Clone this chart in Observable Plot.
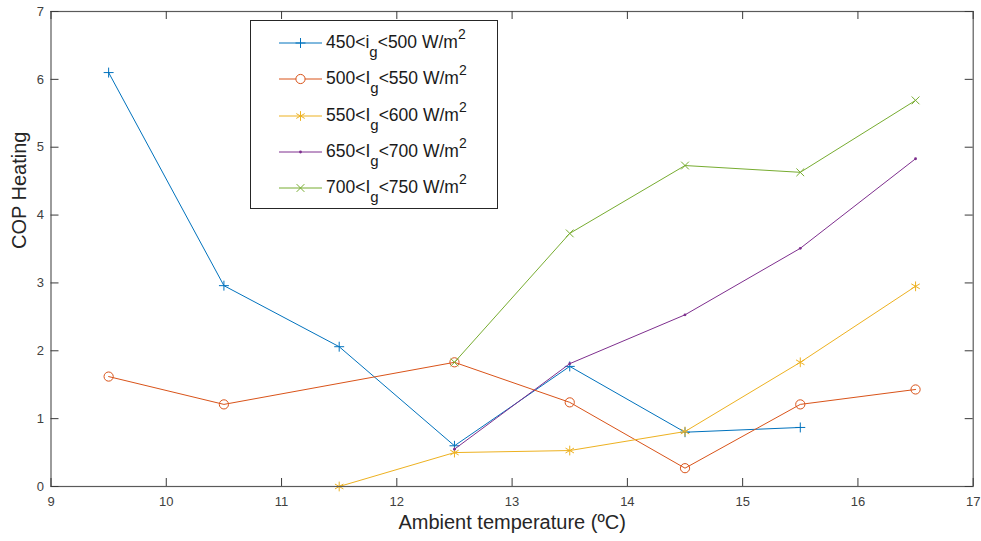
<!DOCTYPE html>
<html><head><meta charset="utf-8">
<script src="https://cdn.jsdelivr.net/npm/d3@7"></script>
<script src="https://cdn.jsdelivr.net/npm/@observablehq/plot@0.6"></script>
<style>
body{margin:0;background:#fff;font-family:"Liberation Sans",Arial,sans-serif;}
#wrap{position:relative;width:981px;height:541px;overflow:hidden;}
#legend{position:absolute;left:250px;top:20px;width:248px;height:189px;box-sizing:border-box;border:1px solid #262626;background:#fff;}
.row{position:absolute;left:0;height:30px;width:240px;}
.row svg{position:absolute;left:28px;top:0;}
.row .lab{position:absolute;left:75px;top:4px;font-size:17.5px;line-height:20px;color:#1a1a1a;white-space:nowrap;}
.lab .sb{font-size:15px;position:relative;top:9px;}
.lab .sp{font-size:14px;position:relative;top:-9px;}
</style>
</head><body>
<div id="wrap"></div>
<script>
// ---- data ----
const temps = [9.5, 10.5, 11.5, 12.5, 13.5, 14.5, 15.5, 16.5];
const cop450 = [6.10, 2.96, 2.06, 0.60, 1.77, 0.80, 0.87, null];
const cop500 = [1.62, 1.21, null, 1.83, 1.24, 0.27, 1.21, 1.43];
const cop550 = [null, null, 0.00, 0.50, 0.53, 0.81, 1.83, 2.95];
const cop650 = [null, null, null, 0.55, 1.81, 2.53, 3.51, 4.83];
const cop700 = [null, null, null, 1.83, 3.73, 4.73, 4.63, 5.69];
const lowBounds = [450, 500, 550, 650, 700];
const highBounds = [500, 550, 600, 700, 750];
const irrLetters = ["i", "I", "I", "I", "I"];
const xTicks = [9, 10, 11, 12, 13, 14, 15, 16, 17];
const yTicks = [0, 1, 2, 3, 4, 5, 6, 7];
const xLabel = "Ambient temperature (ºC)";
const yLabel = "COP Heating";

// ---- styles ----
const colors = ["#0072BD", "#D95319", "#EDB120", "#7E2F8E", "#77AC30"];
const symbols = ["plus", "circle", "asterisk", "circle", "times"];
const radii = [3.3, 4.6, 4.6, 1.4, 3.6];
const filled = [false, false, false, true, false];
const allValues = [cop450, cop500, cop550, cop650, cop700];

const W = 981, H = 541, mL = 50.5, mR = 8.3, mT = 11, mB = 55;
const plotW = W - mL - mR, plotH = H - mT - mB;
const tickLen = 8;

const marks = [];
allValues.forEach((vals, k) => {
  const rows = temps.map((t, i) => ({t, v: vals[i]})).filter(d => d.v != null);
  marks.push(Plot.line(rows, {x: "t", y: "v", stroke: colors[k], strokeWidth: 1}));
  marks.push(Plot.dot(rows, {
    x: "t", y: "v", symbol: symbols[k], r: radii[k],
    stroke: filled[k] ? "none" : colors[k],
    fill: filled[k] ? colors[k] : "none",
    strokeWidth: 1
  }));
});

const chart = Plot.plot({
  width: W, height: H,
  marginLeft: mL, marginRight: mR, marginTop: mT, marginBottom: mB,
  style: {fontFamily: "'Liberation Sans', Arial, sans-serif", fontSize: "13px", color: "#404040", background: "#fff"},
  x: {domain: [9, 17]},
  y: {domain: [0, 7]},
  marks: [
    ...marks,
    Plot.frame({stroke: "#5a5a5a", strokeWidth: 1.2}),
    Plot.tickX(xTicks, {x: d => d, insetTop: plotH - tickLen, stroke: "#3a3a3a"}),
    Plot.tickX(xTicks, {x: d => d, insetBottom: plotH - tickLen, stroke: "#3a3a3a"}),
    Plot.tickY(yTicks, {y: d => d, insetRight: plotW - tickLen, stroke: "#3a3a3a"}),
    Plot.tickY(yTicks, {y: d => d, insetLeft: plotW - tickLen, stroke: "#3a3a3a"}),
    Plot.axisX({ticks: xTicks, tickFormat: d3.format("d"), tickSize: 0, tickPadding: 10, label: null, fontSize: 13, fill: "#404040"}),
    Plot.axisY({ticks: yTicks, tickFormat: d3.format("d"), tickSize: 0, tickPadding: 7, label: null, fontSize: 13, fill: "#404040"}),
    Plot.text([xLabel], {text: d => d, frameAnchor: "bottom", dy: 42, fontSize: 20, fill: "#262626"}),
    Plot.text([yLabel], {text: d => d, frameAnchor: "left", dx: -31, rotate: -90, fontSize: 20, fill: "#262626"})
  ]
});
const wrap = document.getElementById("wrap");
wrap.appendChild(chart);

// ---- legend ----
const legend = document.createElement("div");
legend.id = "legend";
wrap.appendChild(legend);
lowBounds.forEach((lo, k) => {
  const row = document.createElement("div");
  row.className = "row";
  row.style.top = (7 + 36.3 * k) + "px";
  const svg = d3.create("svg").attr("width", 44).attr("height", 30);
  svg.append("line").attr("x1", 0).attr("x2", 43).attr("y1", 15).attr("y2", 15)
    .attr("stroke", colors[k]).attr("stroke-width", 1);
  if (filled[k]) {
    svg.append("circle").attr("cx", 21.5).attr("cy", 15).attr("r", radii[k]).attr("fill", colors[k]);
  } else if (symbols[k] === "circle") {
    svg.append("circle").attr("cx", 21.5).attr("cy", 15).attr("r", radii[k]).attr("fill", "#fff").attr("stroke", colors[k]);
  } else {
    const sym = {plus: d3.symbolPlus, asterisk: d3.symbolAsterisk, times: d3.symbolTimes}[symbols[k]];
    svg.append("path").attr("transform", "translate(21.5,15)")
      .attr("d", d3.symbol(sym, Math.PI * radii[k] * radii[k])())
      .attr("fill", "none").attr("stroke", colors[k]);
  }
  row.appendChild(svg.node());
  const lab = document.createElement("div");
  lab.className = "lab";
  lab.innerHTML = `${lo}&lt;${irrLetters[k]}<span class="sb">g</span>&lt;${highBounds[k]} W/m<span class="sp">2</span>`;
  row.appendChild(lab);
  legend.appendChild(row);
});
</script>
</body></html>
